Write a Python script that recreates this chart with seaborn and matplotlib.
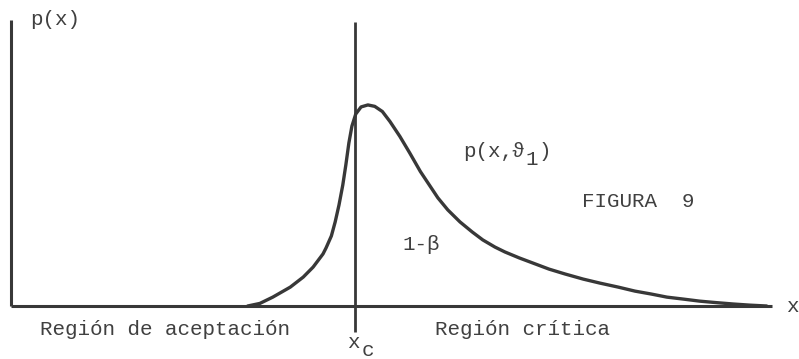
import matplotlib
matplotlib.use("Agg")
import matplotlib.pyplot as plt
import pandas as pd
import seaborn as sns

# Density p(x, theta_1) of the test statistic under the alternative hypothesis
x_vals = [3.11, 3.27, 3.44, 3.67, 3.84, 3.97, 4.10, 4.14, 4.21, 4.26, 4.31,
          4.36, 4.40, 4.44, 4.48, 4.53, 4.60, 4.69, 4.78, 4.88, 4.98, 5.11,
          5.24, 5.38, 5.51, 5.61, 5.74, 5.90, 6.06, 6.20, 6.36, 6.49, 6.68,
          6.86, 7.07, 7.28, 7.52, 7.74, 7.98, 8.20, 8.41, 8.62, 8.84, 9.05,
          9.26, 9.49, 9.71, 9.93]
p_vals = [0.000, 0.009, 0.031, 0.066, 0.101, 0.136, 0.182, 0.203, 0.245,
          0.294, 0.353, 0.423, 0.493, 0.570, 0.629, 0.671, 0.696, 0.703,
          0.698, 0.680, 0.645, 0.593, 0.535, 0.470, 0.418, 0.378, 0.336,
          0.294, 0.259, 0.231, 0.206, 0.189, 0.168, 0.150, 0.129, 0.112,
          0.094, 0.080, 0.066, 0.052, 0.042, 0.031, 0.024, 0.017, 0.012,
          0.007, 0.003, 0.000]

# Critical value separating the acceptance and critical regions
x_c = 4.52
x_axis_end = 10.0
y_axis_top = 1.0

region_labels = ["Región de aceptación", "Región crítica"]

sns.set_theme(style="white")
plt.rcParams["font.family"] = ["Liberation Mono", "DejaVu Sans Mono", "DejaVu Sans"]

ink = "#383838"
text_ink = "#404040"
fs = 15

fig = plt.figure(figsize=(7.99, 3.59), dpi=100)
ax = fig.add_axes([0, 0, 1, 1])
ax.set_xlim(-0.1445, 10.355)
ax.set_ylim(-0.1853, 1.0699)
ax.axis("off")

# Coordinate axes
ax.plot([0, 0], [0, y_axis_top], color=ink, lw=2.2, solid_capstyle="butt")
ax.plot([0, x_axis_end], [0, 0], color=ink, lw=2.2, solid_capstyle="butt")

# Critical value line, extending below the x axis
ax.plot([x_c, x_c], [-0.09, 0.993], color=ink, lw=2.0, solid_capstyle="butt",
        clip_on=False)

# Density curve
df = pd.DataFrame({"x": x_vals, "p": p_vals})
sns.lineplot(data=df, x="x", y="p", ax=ax, color=ink, lw=2.4, sort=False,
             solid_joinstyle="round", solid_capstyle="round")
ax.set_xlabel("")
ax.set_ylabel("")

# Labels
ax.text(0.25, 0.982, "p(x)", fontsize=fs, color=text_ink, va="baseline")
ax.text(10.19, -0.021, "x", fontsize=fs, color=text_ink, va="baseline")
ax.text(5.94, 0.521, "p(x,", fontsize=fs, color=text_ink, va="baseline")
ax.text(6.58, 0.521, "ϑ", fontsize=fs, color=text_ink, va="baseline")
ax.text(6.76, 0.492, "1", fontsize=fs, color=text_ink, va="baseline")
ax.text(6.93, 0.521, ")", fontsize=fs, color=text_ink, va="baseline")
ax.text(7.50, 0.346, "FIGURA  9", fontsize=fs, color=text_ink, va="baseline")
ax.text(5.15, 0.196, "1-β", fontsize=fs, color=text_ink, va="baseline")
ax.text(0.38, -0.101, region_labels[0], fontsize=fs, color=text_ink, va="baseline")
ax.text(5.57, -0.101, region_labels[1], fontsize=fs, color=text_ink, va="baseline")
ax.text(4.42, -0.147, "x", fontsize=fs, color=text_ink, va="baseline")
ax.text(4.61, -0.175, "c", fontsize=fs, color=text_ink, va="baseline")

fig.savefig("out.png", dpi=100, facecolor="white")
